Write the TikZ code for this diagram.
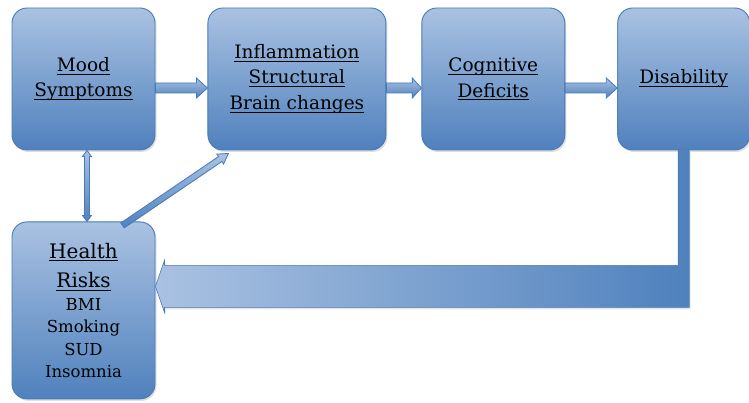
\documentclass[tikz,border=0pt]{standalone}
\usepackage{fontspec}
\setmainfont{DejaVu Serif}
\usetikzlibrary{positioning,calc,shadows}
\definecolor{boxlight}{RGB}{170,194,226}
\definecolor{boxdark}{RGB}{79,129,189}
\definecolor{boxline}{RGB}{70,122,186}
% underlined word, rule through the descenders
\newcommand{\uword}[1]{\leavevmode\setbox0\hbox{#1}\rlap{\rule[-3pt]{\wd0}{0.7pt}}\box0}
% fonts of the health risks box
\newcommand{\riskhead}{\fontsize{20}{29}\selectfont}
\newcommand{\risklist}{\fontsize{16.5}{23}\selectfont}
% block arrow: [style]{from}{to}{shaft half}{head half}{head length}
\newcommand{\blockarrow}[6][arrowshade]{%
  \path[#1] ($(#2)!#4!90:(#3)$) -- ($($(#3)!#6!(#2)$)!#4!90:(#3)$)
    -- ($($(#3)!#6!(#2)$)!#5!90:(#3)$) -- (#3)
    -- ($($(#3)!#6!(#2)$)!#5!-90:(#3)$) -- ($($(#3)!#6!(#2)$)!#4!-90:(#3)$)
    -- ($(#2)!#4!-90:(#3)$) -- cycle;}
% block arrow with a head at both ends
\newcommand{\dblockarrow}[6][arrowshade]{%
  \path[#1] (#2) -- ($($(#2)!#6!(#3)$)!#5!90:(#3)$) -- ($($(#2)!#6!(#3)$)!#4!90:(#3)$)
    -- ($($(#3)!#6!(#2)$)!#4!90:(#3)$) -- ($($(#3)!#6!(#2)$)!#5!90:(#3)$) -- (#3)
    -- ($($(#3)!#6!(#2)$)!#5!-90:(#3)$) -- ($($(#3)!#6!(#2)$)!#4!-90:(#3)$)
    -- ($($(#2)!#6!(#3)$)!#4!-90:(#3)$) -- ($($(#2)!#6!(#3)$)!#5!-90:(#3)$) -- cycle;}
\tikzset{
    %Define style for boxes
    factorbox/.style={
             rectangle, rounded corners=15pt,
             draw=boxline, line width=0.9pt,
             top color=boxlight, bottom color=boxdark,
             drop shadow={opacity=0.25, shadow xshift=1.5pt, shadow yshift=-2pt},
             align=center, inner sep=2pt, text=black,
             minimum width=143pt, minimum height=142pt,
             font=\fontsize{18.5}{25.5}\selectfont},
    % Define arrow styles
    arrowshade/.style={
             draw=boxline, line width=0.8pt,
             top color=boxlight, bottom color=boxdark},
    elbowshade/.style={
             draw=boxline, line width=0.6pt,
             left color=boxlight, right color=boxdark,
             drop shadow={opacity=0.2, shadow xshift=1.5pt, shadow yshift=-2pt}}
}
\begin{document}
\begin{tikzpicture}[x=1pt, y=-1pt]
 \path[use as bounding box, fill=white] (0,0) rectangle (749,403);
 \node[factorbox] (mood) at (83.5,79) {\uword{Mood}\\\uword{Symptoms}};
 \node[factorbox, minimum width=178pt, right=52pt of mood] (infl)
      {\uword{Inflammation}\\\uword{Structural}\\\uword{Brain changes}};
 \node[factorbox, right=35pt of infl] (cog) {\uword{Cognitive}\\\uword{Deficits}};
 \node[factorbox, minimum width=132pt, right=52pt of cog] (dis) {\uword{Disability}};
 \node[factorbox, minimum height=177pt, below=71pt of mood] (health)
      {\riskhead\uword{Health}\\[4pt]\riskhead\uword{Risks}\\[-3pt]
       \risklist BMI\\[-3pt]\risklist Smoking\\[-3pt]\risklist SUD\\[-3pt]\risklist Insomnia};
 % arrows along the top row
 \blockarrow{$(mood.east)+(0,9)$}{$(infl.west)+(0,9)$}{5pt}{10pt}{11pt}
 \blockarrow{$(infl.east)+(0,9)$}{$(cog.west)+(0,9)$}{5pt}{10pt}{9pt}
 \blockarrow{$(cog.east)+(0,9)$}{$(dis.west)+(0,9)$}{5pt}{10pt}{11pt}
 % health risks to mood and brain
 \dblockarrow{$(mood.south)+(3.5,0)$}{$(health.north)+(3.5,0)$}{2.5pt}{4.5pt}{6pt}
 \blockarrow{$(health.north east)+(-33,4)$}{$(infl.south west)+(21,3)$}{3pt}{6pt}{10pt}
 % disability back to health risks
 \coordinate (tip) at ($(health.east)+(0,-24)$);
 \coordinate (drop) at (dis.south);
 \path[elbowshade] ($(drop)+(-5.5,0)$) -- ($(drop)+(5.5,0)$) |- ($(tip)+(9,21)$)
       -- ($(tip)+(9,26)$) -- (tip) -- ($(tip)+(9,-26)$) -- ($(tip)+(9,-21)$)
       -| ($(drop)+(-5.5,0)$) -- cycle;
\end{tikzpicture}
\end{document}
